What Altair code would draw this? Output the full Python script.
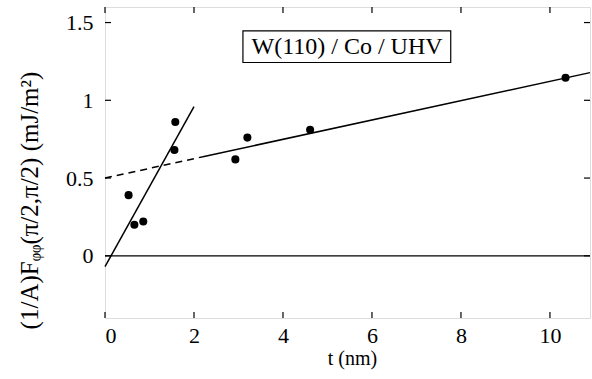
import altair as alt
import pandas as pd

# data points
t_vals = [0.53, 0.66, 0.86, 1.58, 1.56, 2.93, 3.20, 4.61, 10.35]
f_vals = [0.39, 0.20, 0.22, 0.86, 0.68, 0.62, 0.76, 0.81, 1.145]

# fitted lines
steep_t = [0.0, 2.0]
steep_f = [-0.07, 0.96]
dash_t = [0.0, 2.2]
dash_f = [0.50, 0.637]
solid_t = [2.2, 10.9]
solid_f = [0.637, 1.178]

x_ticks = [0, 2, 4, 6, 8, 10]
y_ticks = [0, 0.5, 1, 1.5]

W, H = 485, 311
FONT = "Liberation Serif"
XD = [0, 10.9]
YD = [-0.4, 1.6]

xs = alt.Scale(domain=XD, nice=False, zero=False)
ys = alt.Scale(domain=YD, nice=False, zero=False)

pts = pd.DataFrame({"t": t_vals, "f": f_vals})
steep = pd.DataFrame({"t": steep_t, "f": steep_f})
dash = pd.DataFrame({"t": dash_t, "f": dash_f})
solid = pd.DataFrame({"t": solid_t, "f": solid_f})
xt = pd.DataFrame({"v": x_ticks})
yt = pd.DataFrame({"v": y_ticks})

x_axis = alt.Axis(values=x_ticks, ticks=False, domain=False, grid=False,
                  labelFont=FONT, labelFontSize=22, labelColor="black",
                  labelPadding=7, title="t (nm)", titleFont=FONT,
                  titleFontSize=20, titleFontWeight="normal", titleColor="black",
                  titlePadding=2, titleX=247)
y_axis = alt.Axis(values=y_ticks, ticks=False, domain=False, grid=False,
                  format="~g", labelFont=FONT, labelFontSize=22,
                  labelColor="black", labelPadding=12,
                  title="(1/A)Fᵩᵩ(π/2,π/2) (mJ/m²)", titleFont=FONT,
                  titleFontSize=25, titleFontWeight="normal", titleColor="black",
                  titleBaseline="alphabetic", titleX=-68, titleY=193)

points = alt.Chart(pts).mark_point(filled=True, color="black", size=65, opacity=1).encode(
    x=alt.X("t:Q", scale=xs, axis=x_axis),
    y=alt.Y("f:Q", scale=ys, axis=y_axis),
)

steep_line = alt.Chart(steep).mark_line(color="black", strokeWidth=1.5).encode(
    x=alt.X("t:Q", scale=xs), y=alt.Y("f:Q", scale=ys))
dash_line = alt.Chart(dash).mark_line(color="black", strokeWidth=1.5, strokeDash=[7, 5]).encode(
    x=alt.X("t:Q", scale=xs), y=alt.Y("f:Q", scale=ys))
solid_line = alt.Chart(solid).mark_line(color="black", strokeWidth=1.5).encode(
    x=alt.X("t:Q", scale=xs), y=alt.Y("f:Q", scale=ys))

zero_line = alt.Chart(pd.DataFrame({"z": [0]})).mark_rule(color="black", strokeWidth=1.2).encode(
    y=alt.Y("z:Q", scale=ys))

bx_ticks = alt.Chart(xt).mark_rule(color="black", strokeWidth=1.2).encode(
    x=alt.X("v:Q", scale=xs), y=alt.value(H), y2=alt.value(H - 6))
tx_ticks = alt.Chart(xt).mark_rule(color="black", strokeWidth=1.2).encode(
    x=alt.X("v:Q", scale=xs), y=alt.value(0), y2=alt.value(6))
ly_ticks = alt.Chart(yt).mark_rule(color="black", strokeWidth=1.2).encode(
    y=alt.Y("v:Q", scale=ys), x=alt.value(0), x2=alt.value(6))
ry_ticks = alt.Chart(yt).mark_rule(color="black", strokeWidth=1.2).encode(
    y=alt.Y("v:Q", scale=ys), x=alt.value(W), x2=alt.value(W - 6))

box = alt.Chart(pd.DataFrame({"a": [0]})).mark_rect(fill="white", stroke="black", strokeWidth=1.2).encode(
    x=alt.datum(3.1, scale=xs), x2=alt.datum(7.77),
    y=alt.datum(1.447, scale=ys), y2=alt.datum(1.243))
label = alt.Chart(pd.DataFrame({"a": [0]})).mark_text(
    text="W(110) / Co / UHV", font=FONT, fontSize=24, color="black",
    align="center", baseline="middle").encode(
    x=alt.datum(5.44, scale=xs), y=alt.datum(1.345, scale=ys))

chart = alt.layer(
    zero_line, steep_line, dash_line, solid_line, points,
    bx_ticks, tx_ticks, ly_ticks, ry_ticks, box, label
).properties(
    width=W, height=H,
    autosize=alt.AutoSizeParams(type="none"),
    padding={"left": 105, "top": 7, "right": 2, "bottom": 61},
).configure_view(stroke="black", strokeWidth=1.5).configure(background="white")

chart.save("out.html", embed_options={"renderer": "svg", "actions": False})
